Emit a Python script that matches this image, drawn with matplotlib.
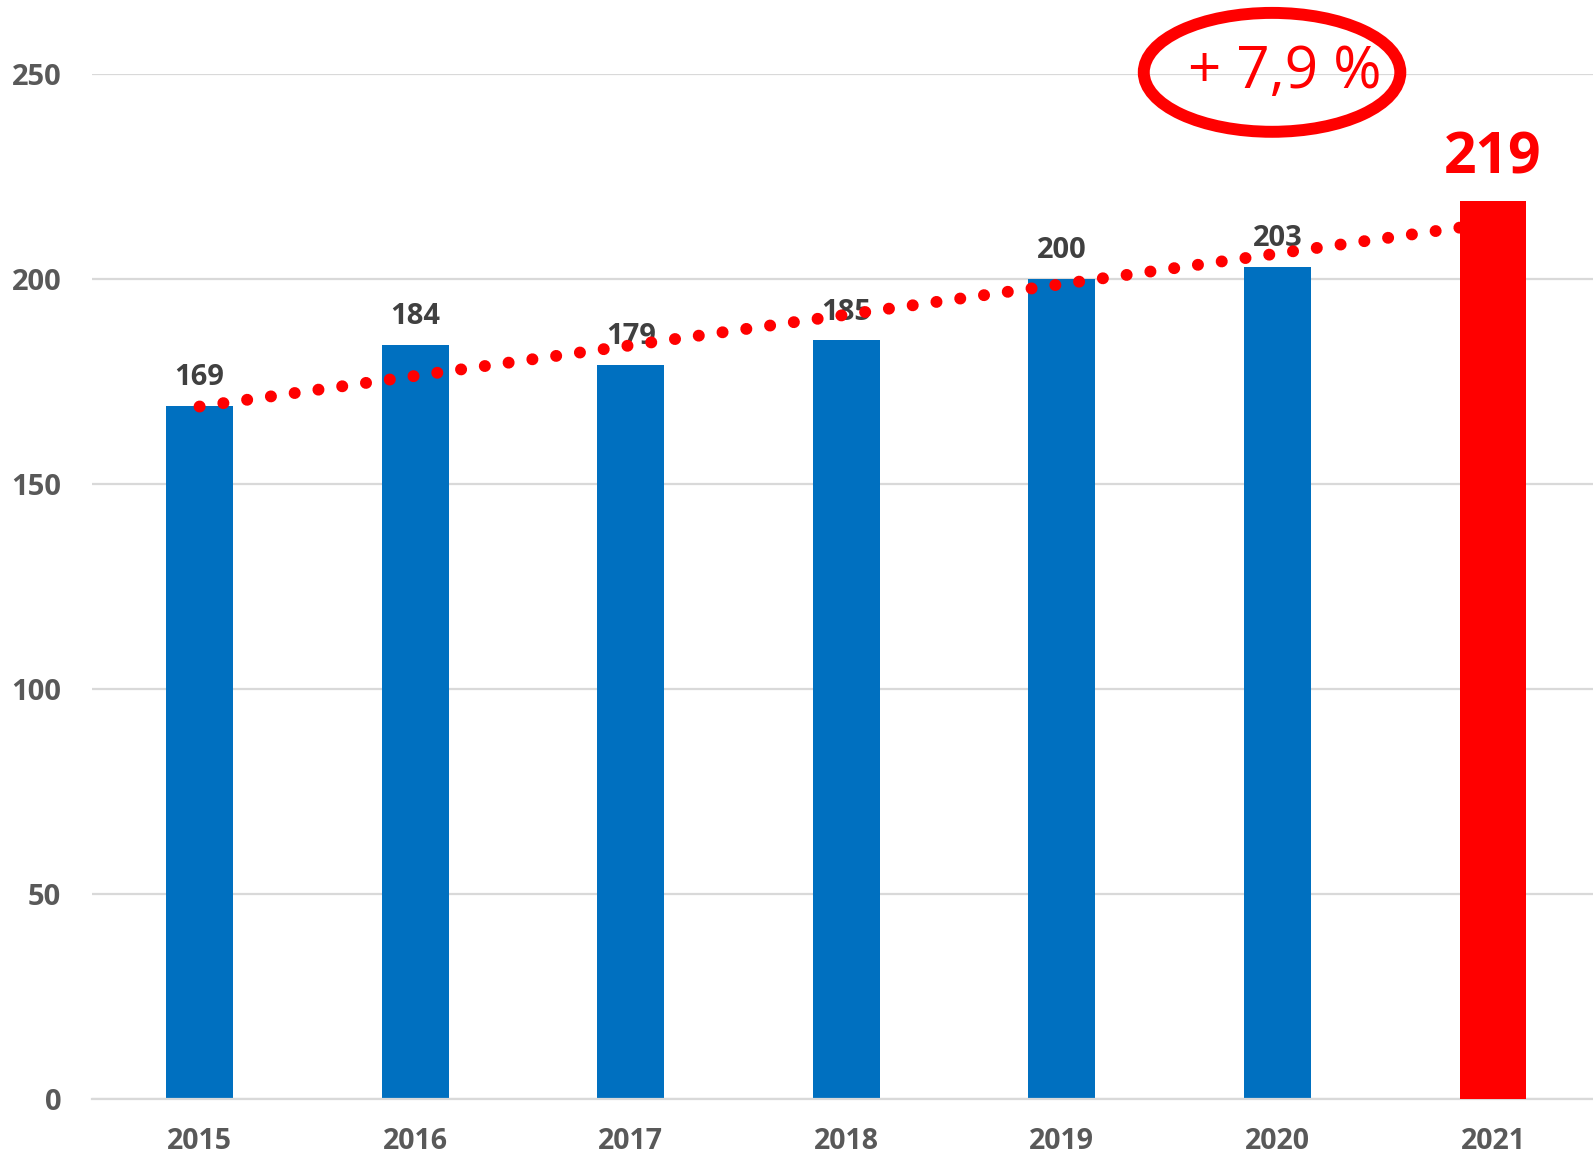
"""Balkendiagramm 2015-2021 mit Trendlinie und hervorgehobenem Wert 2021."""

import matplotlib

matplotlib.use("Agg")
import matplotlib.pyplot as plt
import numpy as np
from matplotlib.patches import Ellipse

YEARS = ["2015", "2016", "2017", "2018", "2019", "2020", "2021"]
VALUES = [169, 184, 179, 185, 200, 203, 219]
HIGHLIGHT_INDEX = 6
GROWTH_TEXT = "+ 7,9 %"
Y_TICKS = [0, 50, 100, 150, 200, 250]

BLUE = "#0070C0"
RED = "#FF0000"
LABEL_GRAY = "#404040"
TICK_GRAY = "#595959"
GRID_GRAY = "#D9D9D9"

plt.rcParams["font.family"] = ["Open Sans", "DejaVu Sans"]


def main() -> None:
    fig = plt.figure(figsize=(15.93, 11.56), dpi=100)
    ax = fig.add_axes([0.0576, 0.0493, 0.9473, 0.8867])

    x = np.arange(len(YEARS))
    colors = [RED if i == HIGHLIGHT_INDEX else BLUE for i in x]
    bars = ax.bar(x, VALUES, width=0.31, color=colors, zorder=2)
    bars[HIGHLIGHT_INDEX].set_zorder(4)

    # linear trendline (like Excel's)
    slope, intercept = np.polyfit(x, VALUES, 1)
    trend_x = np.array([x[0], x[-1]])
    ax.plot(
        trend_x,
        slope * trend_x + intercept,
        color=RED,
        linewidth=8.6,
        linestyle=(0, (0.01, 2.0)),
        dash_capstyle="round",
        zorder=3,
    )

    for i, value in enumerate(VALUES):
        if i == HIGHLIGHT_INDEX:
            ax.annotate(
                str(value), (i, value), xytext=(0, 20), textcoords="offset points",
                ha="center", va="baseline", fontsize=41, fontweight="bold",
                color=RED, zorder=5,
            )
        else:
            ax.annotate(
                str(value), (i, value), xytext=(0, 15), textcoords="offset points",
                ha="center", va="baseline", fontsize=21, fontweight="bold",
                color=LABEL_GRAY, zorder=2.5,
            )

    ax.add_patch(
        Ellipse((4.975, 250.4), 1.19, 29.0, fill=False, edgecolor=RED,
                linewidth=8.6, clip_on=False, zorder=6)
    )
    ax.text(5.035, 250.2, GROWTH_TEXT, ha="center", va="center", fontsize=42,
            color=RED, zorder=6, clip_on=False)

    ax.set_xlim(-0.5, 6.5)
    ax.set_ylim(0, 250)
    ax.set_xticks(x)
    ax.set_xticklabels(YEARS)
    ax.set_yticks(Y_TICKS)
    ax.tick_params(axis="x", length=0, labelsize=20.5, labelcolor=TICK_GRAY, pad=20)
    ax.tick_params(axis="y", length=0, labelsize=21, labelcolor=TICK_GRAY, pad=22)
    for label in ax.get_xticklabels() + ax.get_yticklabels():
        label.set_fontweight("bold")

    ax.grid(axis="y", color=GRID_GRAY, linewidth=1.6, zorder=0)
    ax.set_axisbelow(True)
    for side in ["top", "right", "left"]:
        ax.spines[side].set_visible(False)
    ax.spines["bottom"].set_color(GRID_GRAY)
    ax.spines["bottom"].set_linewidth(1.6)

    fig.savefig("out.png", dpi=100)
    plt.close(fig)


if __name__ == "__main__":
    main()
